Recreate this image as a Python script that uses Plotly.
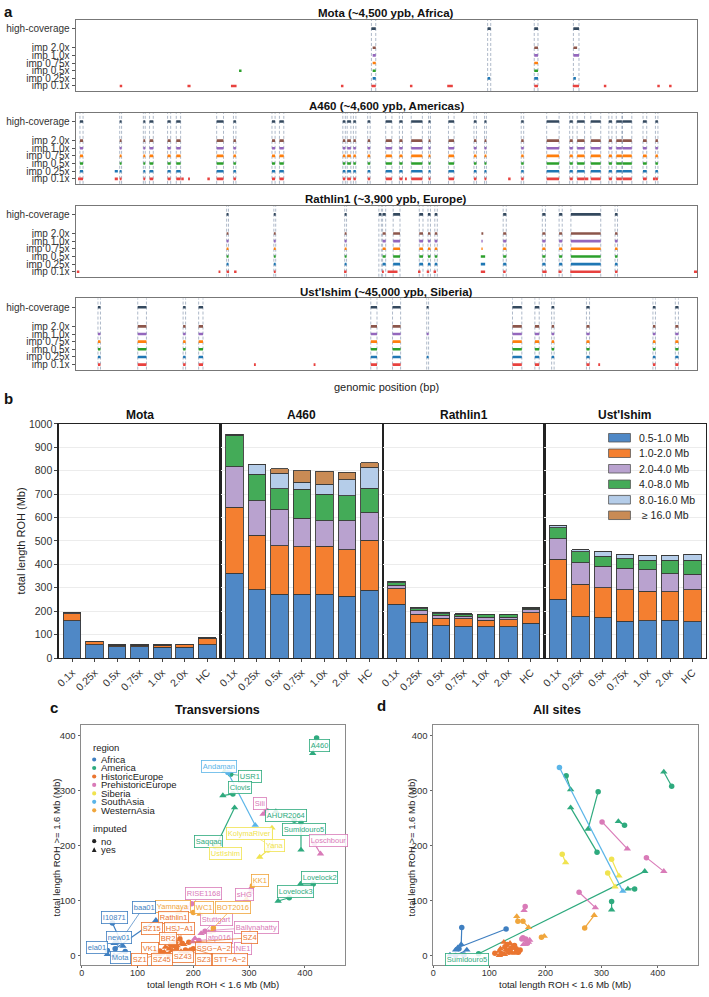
import plotly.graph_objects as go

W, H = 709, 997
FONT = "Liberation Sans, Arial, Helvetica, sans-serif"


def fx(x):
    return x / W


def fy(y):
    return 1 - y / H


def xn_(i):
    return "x" if i == 1 else f"x{i}"


def yn_(i):
    return "y" if i == 1 else f"y{i}"


def xk_(i):
    return "xaxis" if i == 1 else f"xaxis{i}"


def yk_(i):
    return "yaxis" if i == 1 else f"yaxis{i}"


# ---------------- Panel a data (ROH segments, genomic position in Mb) ----------------
row_keys = ["0.1x", "0.25x", "0.5x", "0.75x", "1.0x", "2.0x", "HC"]
row_labels = ["imp 0.1x", "imp 0.25x", "imp 0.5x", "imp 0.75x", "imp 1.0x", "imp 2.0x", "high-coverage"]

mota_seg = {
    "HC": [(47.6, 48.3), (66.3, 66.8), (73.8, 74.4), (80.1, 81.0)],
    "2.0x": [(47.8, 48.3), (73.8, 74.4), (80.1, 80.7)],
    "1.0x": [(47.8, 48.3), (73.8, 74.4), (80.1, 81.0)],
    "0.75x": [(47.8, 48.3), (73.8, 74.4)],
    "0.5x": [(26.3, 26.7), (47.8, 48.3), (73.8, 74.4)],
    "0.25x": [(47.8, 48.3), (66.3, 66.7), (73.8, 74.4), (80.1, 80.5)],
    "0.1x": [(7.1, 7.5), (18.0, 18.5), (25.0, 25.9), (42.7, 43.1), (47.6, 48.3), (53.8, 54.2),
             (59.8, 60.7), (73.8, 74.4), (80.0, 81.0), (85.0, 85.4), (93.6, 94.0), (95.5, 95.9)],
}

a460_hc = [(0.7, 1.2), (7.1, 7.4), (10.9, 11.2), (11.9, 12.5), (14.8, 15.3), (16.2, 16.9), (22.7, 23.8),
           (25.4, 25.8), (31.6, 32.1), (32.8, 33.5), (43.0, 43.4), (43.7, 44.3), (44.7, 45.1), (47.0, 47.4),
           (49.9, 50.9), (52.1, 52.6), (54.0, 55.8), (56.8, 57.1), (60.0, 60.9), (64.1, 64.5), (65.8, 66.1),
           (71.7, 72.1), (75.8, 77.8), (79.5, 80.0), (80.7, 81.9), (82.9, 84.5), (85.8, 86.3), (87.0, 87.9),
           (88.0, 89.5), (91.3, 91.9), (93.3, 93.7)]
a460_extra = {
    "2.0x": [], "1.0x": [], "0.75x": [], "0.5x": [],
    "0.25x": [(6.3, 6.8)],
    "0.1x": [(0.4, 0.7), (6.3, 6.8), (17.0, 17.4), (18.1, 18.4), (21.2, 21.6), (53.0, 53.3),
             (69.6, 70.0), (81.9, 82.5), (92.9, 93.3)],
}
a460_seg = {"HC": a460_hc}
for k in ["2.0x", "1.0x", "0.75x", "0.5x", "0.25x", "0.1x"]:
    a460_seg[k] = a460_hc + a460_extra[k]

rath_hc = [(24.3, 24.6), (31.9, 32.2), (43.3, 43.6), (48.8, 49.2), (49.4, 49.9), (51.1, 52.2), (55.3, 55.9),
           (56.7, 57.1), (57.8, 58.2), (68.8, 69.3), (75.1, 75.6), (77.8, 78.3), (79.7, 84.5), (86.8, 87.2)]
rath_common = [(24.3, 24.6), (31.9, 32.2), (43.3, 43.6), (49.4, 49.9), (51.1, 52.2), (55.3, 55.9),
               (56.7, 57.1), (57.8, 58.2), (68.8, 69.3), (75.1, 75.6), (77.8, 78.3), (79.7, 84.5), (86.8, 87.2)]
rath_seg = {
    "HC": rath_hc,
    "2.0x": rath_common + [(65.3, 65.6)],
    "1.0x": rath_common + [(65.3, 65.5)],
    "0.75x": rath_common + [(65.3, 65.5)],
    "0.5x": rath_common + [(65.2, 65.9)],
    "0.25x": rath_common + [(65.2, 65.9)],
    "0.1x": [(0.2, 0.6), (23.0, 23.3), (24.3, 24.7), (25.5, 25.9), (31.9, 32.2), (43.2, 43.6), (49.3, 49.6),
             (50.2, 51.8), (55.1, 55.5), (56.5, 56.9), (57.6, 58.0), (65.2, 65.9), (68.8, 69.2), (75.1, 75.8),
             (77.7, 78.2), (79.6, 84.5), (86.8, 87.2), (99.5, 100.0)],
}

ust_hc = [(3.6, 4.0), (10.0, 11.4), (17.3, 17.7), (19.8, 20.5), (47.5, 48.5), (51.0, 52.3), (56.5, 56.8),
          (70.3, 71.8), (73.9, 74.6), (76.6, 77.0), (82.2, 82.7), (92.9, 93.3), (96.5, 97.0)]
ust_seg = {
    "HC": ust_hc,
    "2.0x": [(10.0, 11.4), (17.3, 17.7), (19.8, 20.5), (47.5, 48.5), (51.0, 52.3), (70.3, 71.8),
             (73.9, 74.6), (76.6, 77.0), (82.2, 82.7), (92.9, 93.3), (96.5, 97.0)],
    "1.0x": ust_hc,
    "0.75x": [(3.6, 4.0), (10.0, 11.4), (17.3, 17.7), (19.8, 20.5), (47.5, 48.5), (51.0, 52.3), (70.3, 71.8),
              (73.9, 74.6), (76.6, 77.0), (82.2, 82.7), (92.9, 93.3), (96.5, 97.0)],
    "0.5x": [(3.6, 4.0), (10.0, 11.4), (17.3, 17.7), (19.8, 20.5), (47.5, 48.5), (51.0, 52.3), (70.3, 71.8),
             (73.9, 74.6), (76.6, 77.0), (82.2, 82.7), (92.9, 93.3), (96.5, 97.0)],
    "0.25x": ust_hc,
    "0.1x": [(3.6, 4.0), (10.0, 11.4), (17.3, 17.7), (19.8, 20.5), (28.7, 29.0), (38.3, 38.6), (47.5, 48.5),
             (51.0, 52.3), (70.3, 71.8), (73.9, 74.6), (82.2, 82.7), (84.1, 84.4), (92.9, 93.3), (96.5, 97.0)],
}

panel_a_titles = ["Mota (~4,500 ypb, Africa)", "A460 (~4,600 ypb, Americas)",
                  "Rathlin1 (~3,900 ypb, Europe)", "Ust'Ishim (~45,000 ypb, Siberia)"]
panel_a_data = [mota_seg, a460_seg, rath_seg, ust_seg]

row_colors = {"HC": "#34495e", "2.0x": "#8c564b", "1.0x": "#9467bd", "0.75x": "#ff7f0e",
              "0.5x": "#2ca02c", "0.25x": "#1f77b4", "0.1x": "#e8423f"}
row_pos = {"0.1x": 0, "0.25x": 1, "0.5x": 2, "0.75x": 3, "1.0x": 4, "2.0x": 5, "HC": 7.5}

# ---------------- Panel b data (total ROH length, Mb) ----------------
coverages = ["0.1x", "0.25x", "0.5x", "0.75x", "1.0x", "2.0x", "HC"]
bins = ["0.5-1.0 Mb", "1.0-2.0 Mb", "2.0-4.0 Mb", "4.0-8.0 Mb", "8.0-16.0 Mb", " \u2265 16.0 Mb"]
bin_colors = ["#4f88c6", "#f47f30", "#b9a2cf", "#44ab58", "#b5cde9", "#c98b55"]
facet_names = ["Mota", "A460", "Rathlin1", "Ust'Ishim"]

roh_mota = [[160, 57, 48, 48, 47, 46, 56],
            [30, 12, 7, 7, 8, 10, 28],
            [3, 3, 3, 3, 3, 3, 3],
            [0, 0, 0, 0, 0, 0, 0],
            [0, 0, 0, 0, 0, 0, 0],
            [0, 0, 0, 0, 0, 0, 0]]
roh_a460 = [[362, 292, 273, 273, 273, 263, 289],
            [283, 233, 207, 202, 204, 200, 214],
            [172, 147, 154, 122, 109, 123, 117],
            [134, 114, 89, 124, 114, 107, 105],
            [5, 41, 66, 29, 42, 68, 89],
            [0, 0, 19, 50, 55, 33, 20]]
roh_rathlin = [[230, 151, 139, 134, 134, 134, 148],
               [66, 36, 30, 34, 28, 29, 45],
               [14, 14, 13, 11, 13, 12, 14],
               [12, 10, 8, 8, 10, 10, 6],
               [5, 3, 3, 3, 2, 2, 2],
               [0, 0, 0, 0, 0, 0, 0]]
roh_ust = [[252, 176, 172, 158, 159, 162, 156],
           [169, 139, 128, 134, 127, 121, 136],
           [89, 93, 92, 91, 91, 76, 66],
           [46, 47, 42, 41, 41, 59, 59],
           [10, 8, 20, 20, 21, 21, 27],
           [0, 0, 0, 0, 0, 0, 0]]
roh_all = [roh_mota, roh_a460, roh_rathlin, roh_ust]

# ---------------- Panels c/d data ----------------
regions = ["Africa", "America", "HistoricEurope", "PrehistoricEurope", "Siberia", "SouthAsia", "WesternAsia"]
region_colors = {"Africa": "#3f7fc1", "America": "#2eaa7e", "HistoricEurope": "#ea7530",
                 "PrehistoricEurope": "#d97bb8", "Siberia": "#f0e34f", "SouthAsia": "#5bb5e8",
                 "WesternAsia": "#f0a63c"}

sample_names = ["A460", "USR1", "Clovis", "Saqqaq", "AHUR2064", "Sumidouro5", "Lovelock2", "Lovelock3",
                "Andaman", "KolymaRiver", "Yana", "UstIshim", "Sili", "Loschbour", "sHG", "RISE1168",
                "Stuttgart", "Ballynahatty", "atp016", "NE1", "KK1", "Yamnaya", "WC1", "BOT2016",
                "Rathlin1", "SZ15", "HSJ\u2212A1", "BR2", "SZ4", "SSG\u2212A\u22122", "VK1", "SZ1", "SZ45",
                "SZ43", "SZ3", "STT\u2212A\u22122", "baa01", "I10871", "new01", "ela01", "Mota"]
sample_region = ["America"] * 8 + ["SouthAsia"] + ["Siberia"] * 3 + ["PrehistoricEurope"] * 8 + \
                ["WesternAsia"] * 4 + ["HistoricEurope"] * 12 + ["Africa"] * 5

# Transversions: non-imputed (x, y) and imputed (x, y)
tv_x_no = [421, 267, 271, 240, 381, 393, 415, 372, 262, 342, 334, 245, 331, 417, 304, 197, 221, 236, 210, 210,
           306, 175, 200, 236, 176, 160, 180, 165, 192, 186, 140, 146, 156, 170, 196, 200, 60, 55, 62, 46, 78]
tv_y_no = [396, 330, 294, 198, 246, 242, 130, 105, 333, 198, 192, 196, 264, 204, 121, 94, 44, 46, 27, 22,
           127, 82, 78, 50, 30, 20, 22, 18, 24, 10, 8, 5, 2, 12, 10, 12, 12, 59, 24, 9, 7]
tv_x_imp = [414, 256, 253, 274, 348, 393, 392, 352, 311, 341, 319, 241, 325, 428, 302, 188, 214, 228, 203, 199,
            295, 174, 212, 234, 168, 150, 171, 157, 183, 178, 132, 138, 148, 162, 188, 193, 133, 74, 58, 46, 58]
tv_y_imp = [368, 335, 291, 269, 262, 192, 130, 99, 237, 232, 179, 198, 257, 185, 115, 86, 40, 42, 31, 25,
            102, 78, 75, 44, 25, 15, 18, 12, 20, 7, 5, 2, 6, 9, 6, 9, 64, 17, 22, 2, 0]
tv_label_x = [427, 301, 283, 228, 367, 398, 426, 384, 246, 301, 345, 258, 319, 443, 292, 219, 241, 313, 247, 289,
              319, 164, 219, 271, 164, 126, 176, 155, 301, 237, 122, 104, 144, 182, 218, 265, 111, 58, 66, 27, 69]
tv_label_y = [383, 325, 305, 208, 255, 230, 142, 116, 344, 222, 200, 186, 276, 210, 111, 112, 66, 51, 32, 13,
              137, 89, 87, 87, 69, 49, 49, 30, 32, 13, 13, -8, -8, -2, -8, -8, 88, 69, 33, 14, -4]

# All sites
as_x_no = [425, 237, 294, 292, 341, 81, 359, 318, 225, 318, 311, 230, 301, 380, 260, 164, 165, 160, 158, 168,
           270, 151, 160, 193, 140, 150, 128, 145, 155, 135, 110, 122, 148, 132, 138, 152, 130, 51, 46, 55, 40]
as_y_no = [308, 327, 298, 188, 237, 3, 121, 98, 342, 175, 150, 184, 243, 178, 115, 89, 30, 32, 30, 22,
           50, 62, 62, 33, 14, 8, 16, 18, 10, 6, 4, 3, 12, 20, 12, 6, 48, 51, 12, 1, 0]
as_x_imp = [411, 245, 276, 245, 330, 377, 347, 318, 338, 331, 324, 236, 346, 411, 289, 162, 170, 172, 166, 161,
            287, 149, 170, 198, 130, 140, 120, 137, 148, 127, 118, 118, 142, 126, 133, 145, 44, 50, 40, 30, 60]
as_y_imp = [334, 302, 230, 269, 244, 153, 121, 83, 117, 145, 125, 169, 194, 153, 87, 82, 24, 28, 22, 20,
            73, 71, 51, 35, 10, 5, 12, 22, 6, 2, 0, 8, 14, 24, 8, 4, 14, 20, 10, 1, 10]
as_labelled = ["Sumidouro5"]

# ---------------- Build figure ----------------
fig = go.Figure()
shapes = []
annotations = []
layout_axes = {}

# Panel a
a_tops = [14, 108, 202, 296]
a_h = 72
for i, (segs, title, top) in enumerate(zip(panel_a_data, panel_a_titles, a_tops), start=1):
    xa, ya = xn_(i), yn_(i)
    for key in row_keys:
        xs, ys = [], []
        for s, e in segs[key]:
            xs += [s, e, None]
            ys += [row_pos[key], row_pos[key], None]
        fig.add_trace(go.Scatter(x=xs, y=ys, mode="lines", xaxis=xa, yaxis=ya,
                                 line=dict(color=row_colors[key], width=2.6), hoverinfo="skip",
                                 showlegend=False))
    for s, e in segs["HC"]:
        for xv in (s, e):
            shapes.append(dict(type="line", xref=xa, yref=f"{ya} domain", x0=xv, x1=xv, y0=0, y1=1,
                               line=dict(color="rgba(70,95,130,0.55)", width=0.8, dash="3px,2px"),
                               layer="below"))
    layout_axes[xk_(i)] = dict(domain=[fx(72), fx(697)], range=[0, 100], anchor=ya,
                               showticklabels=False, showgrid=False, zeroline=False, ticks="",
                               showline=True, mirror=True, linecolor="#777", linewidth=1)
    layout_axes[yk_(i)] = dict(domain=[fy(top + a_h), fy(top)], range=[-0.65, 8.65], anchor=xa,
                               tickvals=[row_pos[k] for k in row_keys], ticktext=row_labels,
                               tickfont=dict(size=10, color="#333"), ticks="outside", ticklen=3,
                               tickcolor="#555", showline=True, mirror=True, linecolor="#777",
                               linewidth=1, showgrid=False, zeroline=False)
    annotations.append(dict(text=f"<b>{title}</b>", xref="paper", yref="paper", x=fx(384.5), y=fy(top - 7),
                            xanchor="center", yanchor="middle", showarrow=False,
                            font=dict(size=11.5, color="#111")))

annotations.append(dict(text="genomic position (bp)", xref="paper", yref="paper", x=fx(384.5), y=fy(386),
                        xanchor="center", yanchor="middle", showarrow=False, font=dict(size=11, color="#222")))

# Panel b
facet_edges = [55, 218, 381, 543.5, 706]
for j, (name, data) in enumerate(zip(facet_names, roh_all)):
    i = 5 + j
    xa, ya = xn_(i), yn_(i)
    for b, (bname, col) in enumerate(zip(bins, bin_colors)):
        fig.add_trace(go.Bar(x=list(range(len(coverages))), y=data[b], xaxis=xa, yaxis=ya,
                             marker=dict(color=col, line=dict(color="#3a3a3a", width=0.9)),
                             width=0.78, name=bname, showlegend=False, hoverinfo="skip"))
    layout_axes[xk_(i)] = dict(domain=[fx(facet_edges[j]), fx(facet_edges[j + 1])], range=[-0.6, 6.6],
                               anchor=ya, tickvals=list(range(7)), ticktext=coverages, tickangle=-45,
                               tickfont=dict(size=10.5, color="#333"), ticks="outside", ticklen=3,
                               tickcolor="#444", showgrid=False, zeroline=False, showline=True,
                               mirror=True, linecolor="#222", linewidth=1.3)
    layout_axes[yk_(i)] = dict(domain=[fy(660), fy(423)], range=[0, 1000], anchor=xa, dtick=100,
                               showticklabels=(j == 0), tickfont=dict(size=10.5, color="#333"),
                               ticks="outside" if j == 0 else "", ticklen=3, tickcolor="#444",
                               showgrid=True, gridcolor="#ececec", gridwidth=1, zeroline=False,
                               showline=True, mirror=True, linecolor="#222", linewidth=1.3)
    annotations.append(dict(text=f"<b>{name}</b>", xref="paper", yref="paper",
                            x=fx((facet_edges[j] + facet_edges[j + 1]) / 2), y=fy(414),
                            xanchor="center", yanchor="middle", showarrow=False,
                            font=dict(size=12, color="#111")))

annotations.append(dict(text="total length ROH (Mb)", xref="paper", yref="paper", x=fx(18), y=fy(541),
                        textangle=-90, xanchor="center", yanchor="middle", showarrow=False,
                        font=dict(size=11, color="#222")))

# Panel b legend (manual)
for b, (bname, col) in enumerate(zip(bins, bin_colors)):
    cy = 437 + 15.7 * b
    shapes.append(dict(type="rect", xref="paper", yref="paper", x0=fx(608), x1=fx(630),
                       y0=fy(cy + 4.3), y1=fy(cy - 4.3), fillcolor=col, line=dict(color="#555", width=0.8)))
    annotations.append(dict(text=bname, xref="paper", yref="paper", x=fx(637), y=fy(cy), xanchor="left",
                            yanchor="middle", showarrow=False, font=dict(size=10.5, color="#222")))


# Panels c, d
def scatter_panel(idx, xn, yn, xi, yi):
    xa, ya = xn_(idx), yn_(idx)
    for reg in regions:
        col = region_colors[reg]
        ids = [k for k, r in enumerate(sample_region) if r == reg]
        lx, ly = [], []
        for k in ids:
            lx += [xn[k], xi[k], None]
            ly += [yn[k], yi[k], None]
        fig.add_trace(go.Scatter(x=lx, y=ly, mode="lines", xaxis=xa, yaxis=ya, line=dict(color=col, width=1.2),
                                 showlegend=False, hoverinfo="skip"))
        fig.add_trace(go.Scatter(x=[xn[k] for k in ids], y=[yn[k] for k in ids], mode="markers", xaxis=xa,
                                 yaxis=ya, marker=dict(color=col, size=5.5, symbol="circle"),
                                 showlegend=False, hoverinfo="skip"))
        fig.add_trace(go.Scatter(x=[xi[k] for k in ids], y=[yi[k] for k in ids], mode="markers", xaxis=xa,
                                 yaxis=ya, marker=dict(color=col, size=6.5, symbol="triangle-up"),
                                 showlegend=False, hoverinfo="skip"))


scatter_panel(9, tv_x_no, tv_y_no, tv_x_imp, tv_y_imp)
scatter_panel(10, as_x_no, as_y_no, as_x_imp, as_y_imp)

for k, nm in enumerate(sample_names):
    col = region_colors[sample_region[k]]
    annotations.append(dict(text=nm, x=tv_x_no[k], y=tv_y_no[k], xref="x9", yref="y9",
                            ax=tv_label_x[k], ay=tv_label_y[k], axref="x9", ayref="y9",
                            showarrow=True, arrowhead=0, arrowwidth=0.7, arrowcolor=col, standoff=0,
                            bordercolor=col, borderwidth=0.8, borderpad=1, bgcolor="rgba(255,255,255,0.85)",
                            font=dict(size=7.5, color=col)))
    if nm in as_labelled:
        annotations.append(dict(text=nm, x=as_x_no[k], y=as_y_no[k], xref="x10", yref="y10",
                                ax=as_x_no[k] - 21, ay=as_y_no[k] - 10, axref="x10", ayref="y10",
                                showarrow=True, arrowhead=0, arrowwidth=0.7, arrowcolor=col, standoff=0,
                                bordercolor=col, borderwidth=0.8, borderpad=1,
                                bgcolor="rgba(255,255,255,0.85)", font=dict(size=7.5, color=col)))

for idx, (x0, x1, xr) in zip([9, 10], [(77, 343, [-2, 472]), (431, 698, [-1, 472])]):
    layout_axes[xk_(idx)] = dict(domain=[fx(x0), fx(x1)], range=xr, anchor=yn_(idx),
                                 tickvals=[0, 100, 200, 300, 400], tickfont=dict(size=9, color="#333"),
                                 ticks="outside", ticklen=2, tickcolor="#666", showgrid=False,
                                 ticklabelstandoff=-3,
                                 zeroline=False, showline=True, mirror=True, linecolor="#8a8a8a",
                                 linewidth=1)
    layout_axes[yk_(idx)] = dict(domain=[fy(971), fy(728)], range=[-18, 419], anchor=xn_(idx),
                                 tickvals=[0, 100, 200, 300, 400], tickfont=dict(size=9.5, color="#333"),
                                 ticks="outside", ticklen=2, tickcolor="#666", showgrid=False,
                                 zeroline=False, showline=True, mirror=True, linecolor="#8a8a8a",
                                 linewidth=1)

for cx, ttl in [(215, "Transversions"), (556, "All sites")]:
    annotations.append(dict(text=f"<b>{ttl}</b>", xref="paper", yref="paper", x=fx(cx), y=fy(713),
                            xanchor="center", yanchor="middle", showarrow=False, font=dict(size=12.5, color="#111")))
for cx in [210, 564]:
    annotations.append(dict(text="total length ROH < 1.6 Mb (Mb)", xref="paper", yref="paper", x=fx(cx),
                            y=fy(997), xanchor="center", yanchor="bottom", showarrow=False, borderpad=0,
                            font=dict(size=9.5, color="#222")))
for cx in [53, 410]:
    annotations.append(dict(text="total length ROH >= 1.6 Mb (Mb)", xref="paper", yref="paper", x=fx(cx),
                            y=fy(852), textangle=-90, xanchor="center", yanchor="middle", showarrow=False,
                            font=dict(size=9.5, color="#222")))

# Panel c legend (manual)
annotations.append(dict(text="region", xref="paper", yref="paper", x=fx(87), y=fy(751), xanchor="left",
                        yanchor="middle", showarrow=False, font=dict(size=9.5, color="#222")))
for r, reg in enumerate(regions):
    cy = 762.7 + 8.57 * r
    shapes.append(dict(type="circle", xref="paper", yref="paper", x0=fx(88.6), x1=fx(92.8),
                       y0=fy(cy + 2.1), y1=fy(cy - 2.1), fillcolor=region_colors[reg], line=dict(width=0)))
    annotations.append(dict(text=reg, xref="paper", yref="paper", x=fx(96), y=fy(cy), xanchor="left",
                            yanchor="middle", showarrow=False, font=dict(size=9.5, color="#222")))
annotations.append(dict(text="imputed", xref="paper", yref="paper", x=fx(87), y=fy(833), xanchor="left",
                        yanchor="middle", showarrow=False, font=dict(size=9.5, color="#222")))
for r, txt in enumerate(["no", "yes"]):
    cy = 845.3 + 8.7 * r
    annotations.append(dict(text=txt, xref="paper", yref="paper", x=fx(96), y=fy(cy), xanchor="left",
                            yanchor="middle", showarrow=False, font=dict(size=9.5, color="#222")))
shapes.append(dict(type="circle", xref="paper", yref="paper", x0=fx(88.6), x1=fx(92.8),
                   y0=fy(845.3 + 2.1), y1=fy(845.3 - 2.1), fillcolor="#222", line=dict(width=0)))
tcy = 854.0
shapes.append(dict(type="path", xref="paper", yref="paper",
                   path=f"M {fx(88.3)},{fy(tcy + 2.3)} L {fx(93.1)},{fy(tcy + 2.3)} L {fx(90.7)},{fy(tcy - 2.5)} Z",
                   fillcolor="#222", line=dict(width=0)))

# Panel letters
for txt, x, y in [("a", 5, 6), ("b", 5, 397), ("c", 50, 710), ("d", 380, 708)]:
    annotations.append(dict(text=f"<b>{txt}</b>", xref="paper", yref="paper", x=fx(x), y=fy(y),
                            xanchor="center", yanchor="middle", showarrow=False, font=dict(size=15, color="#111")))

fig.update_layout(width=W, height=H, margin=dict(l=0, r=0, t=0, b=0), paper_bgcolor="white",
                  plot_bgcolor="white", barmode="stack", bargap=0, showlegend=False,
                  font=dict(family=FONT, color="#222"), shapes=shapes, annotations=annotations,
                  **layout_axes)

fig.write_html("out.html", config={"displayModeBar": False, "staticPlot": True},
               post_script="document.body.style.margin='0';document.body.style.padding='0';"
                           "document.documentElement.style.overflow='hidden';")
